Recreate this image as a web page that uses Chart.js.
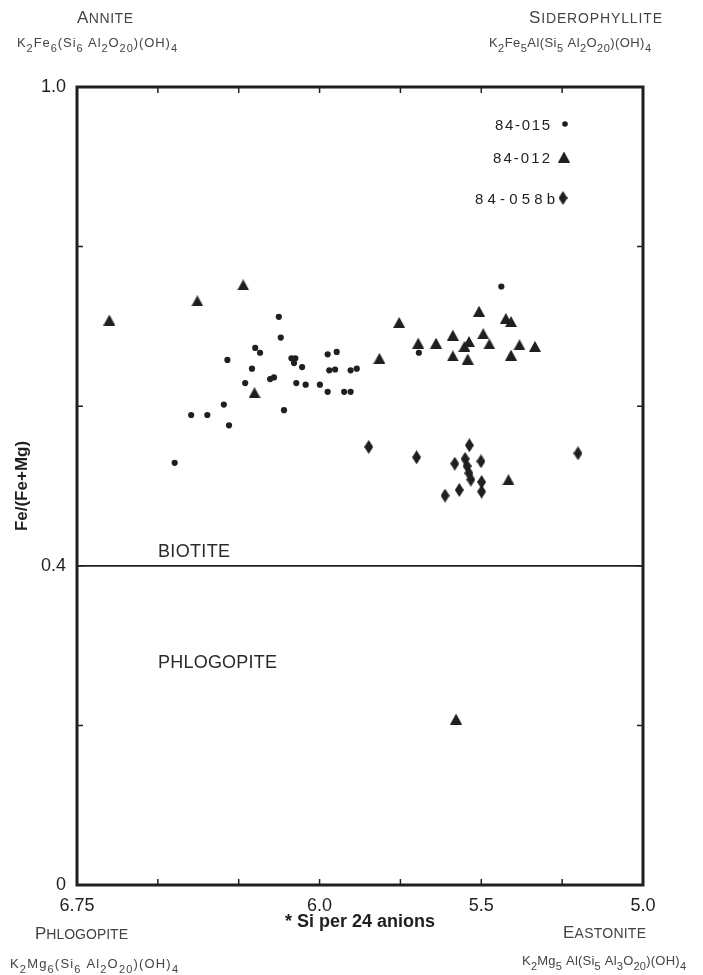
<!DOCTYPE html>
<html>
<head>
<meta charset="utf-8">
<script src="https://cdn.jsdelivr.net/npm/chart.js@4.4.1/dist/chart.umd.min.js"></script>
<style>
  html, body { margin: 0; padding: 0; background: #fff; }
  #chart { display: block; }
</style>
</head>
<body>
<canvas id="chart" width="703" height="975"></canvas>
<script>
(() => {
  'use strict';

  // [Si per 24 anions, Fe/(Fe+Mg)]
  const s84015 = [
    [6.126, 0.712], [6.120, 0.686], [6.199, 0.673], [6.184, 0.667], [6.285, 0.658],
    [6.087, 0.660], [6.075, 0.660], [6.079, 0.654], [6.054, 0.649], [6.209, 0.647],
    [6.153, 0.634], [6.141, 0.636], [6.230, 0.629], [6.072, 0.629], [6.043, 0.627],
    [6.296, 0.602], [6.397, 0.589], [6.347, 0.589], [6.110, 0.595], [6.280, 0.576],
    [6.448, 0.529], [5.975, 0.665], [5.947, 0.668], [5.999, 0.627], [5.975, 0.618],
    [5.970, 0.645], [5.952, 0.646], [5.904, 0.645], [5.885, 0.647], [5.924, 0.618],
    [5.904, 0.618], [5.693, 0.667], [5.438, 0.750]
  ];
  const s84012 = [
    [6.650, 0.708], [6.378, 0.732], [6.236, 0.752], [6.201, 0.617], [5.754, 0.705],
    [5.815, 0.660], [5.695, 0.679], [5.640, 0.679], [5.588, 0.689], [5.507, 0.719],
    [5.424, 0.710], [5.408, 0.706], [5.494, 0.691], [5.538, 0.681], [5.552, 0.675],
    [5.475, 0.678], [5.382, 0.677], [5.334, 0.675], [5.588, 0.663], [5.542, 0.659],
    [5.408, 0.664], [5.416, 0.508], [5.578, 0.208]
  ];
  const s84058b = [
    [5.848, 0.549], [5.700, 0.536], [5.537, 0.551], [5.582, 0.528], [5.501, 0.531],
    [5.550, 0.534], [5.544, 0.525], [5.538, 0.516], [5.532, 0.508], [5.499, 0.505],
    [5.499, 0.493], [5.568, 0.495], [5.612, 0.488], [5.201, 0.541]
  ];
  const biotiteLine = [[6.75, 0.4], [5.0, 0.4]];

  const xTickValues = [6.75, 6.5, 6.25, 6.0, 5.75, 5.5, 5.25, 5.0];
  const xTickLabels = ['6.75', '', '', '6.0', '', '5.5', '', '5.0'];
  const yTickValues = [0, 0.2, 0.4, 0.6, 0.8, 1.0];
  const yTickLabels = ['0', '', '0.4', '', '', '1.0'];

  const INK = '#1f1f1f';
  const GREY = '#444';
  const FONT = "'Liberation Sans', Arial, sans-serif";

  const pts = arr => arr.map(([x, y]) => ({ x, y }));

  function shapeCanvas(w, h, draw) {
    const c = document.createElement('canvas');
    c.width = w; c.height = h;
    const g = c.getContext('2d');
    g.fillStyle = INK;
    g.beginPath();
    draw(g, w, h);
    g.fill();
    return c;
  }
  const triangleImg = shapeCanvas(12, 11, (g, w, h) => {
    g.moveTo(w / 2, 0); g.lineTo(w, h); g.lineTo(0, h); g.closePath();
  });
  const diamondImg = shapeCanvas(9, 14, (g, w, h) => {
    g.moveTo(w / 2, 0); g.lineTo(w, h / 2); g.lineTo(w / 2, h); g.lineTo(0, h / 2); g.closePath();
  });

  // draw runs of text (different sizes / offsets) spread to a target width
  function drawRuns(ctx, runs, x, y, width, color) {
    ctx.save();
    ctx.fillStyle = color;
    ctx.textBaseline = 'alphabetic';
    ctx.textAlign = 'left';
    ctx.letterSpacing = '0px';
    let natural = 0, chars = 0;
    runs.forEach(r => {
      ctx.font = (r.bold ? 'bold ' : '') + r.size + 'px ' + FONT;
      natural += ctx.measureText(r.t).width;
      chars += [...r.t].length;
    });
    const sp = width && chars > 1 ? (width - natural) / (chars - 1) : 0;
    ctx.letterSpacing = sp + 'px';
    let cx = x;
    runs.forEach(r => {
      ctx.font = (r.bold ? 'bold ' : '') + r.size + 'px ' + FONT;
      ctx.fillText(r.t, cx, y + (r.dy || 0));
      cx += ctx.measureText(r.t).width;
    });
    ctx.restore();
  }

  const smallCaps = (word, big, small) => [{ t: word[0], size: big }, { t: word.slice(1), size: small }];
  const formula = parts => parts.map((p, i) => i % 2 ? { t: p, size: 11, dy: 5 } : { t: p, size: 13 });

  const decorations = {
    id: 'decorations',
    afterDraw(chart) {
      const { ctx, chartArea: a, scales: { x, y } } = chart;
      ctx.save();
      ctx.strokeStyle = INK;
      // inward tick marks
      ctx.lineWidth = 1.5;
      ctx.beginPath();
      xTickValues.forEach(v => {
        const px = x.getPixelForValue(v);
        if (Math.abs(px - a.left) < 2 || Math.abs(px - a.right) < 2) return;
        ctx.moveTo(px, a.bottom); ctx.lineTo(px, a.bottom - 6);
        ctx.moveTo(px, a.top); ctx.lineTo(px, a.top + 6);
      });
      yTickValues.forEach(v => {
        const py = y.getPixelForValue(v);
        if (Math.abs(py - a.top) < 2 || Math.abs(py - a.bottom) < 2) return;
        ctx.moveTo(a.left, py); ctx.lineTo(a.left + 6, py);
        ctx.moveTo(a.right, py); ctx.lineTo(a.right - 6, py);
      });
      ctx.stroke();
      // frame
      ctx.lineWidth = 3;
      ctx.strokeRect(a.left, a.top, a.right - a.left, a.bottom - a.top);
      ctx.restore();

      // field names
      drawRuns(ctx, [{ t: 'BIOTITE', size: 18 }], 158, 557, 72, '#2a2a2a');
      drawRuns(ctx, [{ t: 'PHLOGOPITE', size: 18 }], 158, 668, 119, '#2a2a2a');

      // legend
      const ds = chart.data.datasets;
      drawRuns(ctx, [{ t: ds[0].label, size: 15 }], 495, 130, 55, INK);
      drawRuns(ctx, [{ t: ds[1].label, size: 15 }], 493, 163, 57, INK);
      drawRuns(ctx, [{ t: ds[2].label, size: 15 }], 475, 204, 80, INK);
      ctx.save();
      ctx.fillStyle = INK;
      ctx.beginPath();
      ctx.arc(565, 124, 2.8, 0, Math.PI * 2);
      ctx.fill();
      ctx.drawImage(triangleImg, 564 - 6, 157 - 5.5);
      ctx.drawImage(diamondImg, 563 - 4.5, 198 - 7);
      ctx.restore();

      // end members
      drawRuns(ctx, smallCaps('ANNITE', 17, 14), 77, 23, 56, GREY);
      drawRuns(ctx, formula(['K', '2', 'Fe', '6', '(Si', '6', ' Al', '2', 'O', '20', ')(OH)', '4']), 17, 47, 160, GREY);
      drawRuns(ctx, smallCaps('SIDEROPHYLLITE', 17, 14), 529, 23, 133, GREY);
      drawRuns(ctx, formula(['K', '2', 'Fe', '5', 'Al(Si', '5', ' Al', '2', 'O', '20', ')(OH)', '4']), 489, 47, 162, GREY);
      drawRuns(ctx, smallCaps('PHLOGOPITE', 17, 14), 35, 939, 93, GREY);
      drawRuns(ctx, formula(['K', '2', 'Mg', '6', '(Si', '6', ' Al', '2', 'O', '20', ')(OH)', '4']), 10, 968, 168, GREY);
      drawRuns(ctx, smallCaps('EASTONITE', 17, 14), 563, 938, 83, GREY);
      drawRuns(ctx, formula(['K', '2', 'Mg', '5', ' Al(Si', '5', ' Al', '3', 'O', '20', ')(OH)', '4']), 522, 965, 164, GREY);
    }
  };

  const tickFont = { family: FONT, size: 18 };
  const labelFor = (vals, labels) => v => {
    const i = vals.findIndex(t => Math.abs(t - v) < 1e-6);
    return i < 0 ? '' : labels[i];
  };

  new Chart(document.getElementById('chart'), {
    type: 'scatter',
    data: {
      datasets: [
        { label: '84-015', data: pts(s84015), pointStyle: 'circle', pointRadius: 3.1, backgroundColor: INK, borderWidth: 0 },
        { label: '84-012', data: pts(s84012), pointStyle: triangleImg },
        { label: '84-058b', data: pts(s84058b), pointStyle: diamondImg },
        { label: 'biotite', data: pts(biotiteLine), showLine: true, borderColor: INK, borderWidth: 1.8, pointRadius: 0 }
      ]
    },
    options: {
      responsive: false,
      animation: false,
      events: [],
      layout: { padding: { top: 87, right: 60, bottom: 0, left: 0 } },
      plugins: { legend: { display: false }, tooltip: { enabled: false } },
      scales: {
        x: {
          type: 'linear', reverse: true, min: 5.0, max: 6.75,
          afterFit: s => { s.height = 90; },
          afterBuildTicks: s => { s.ticks = xTickValues.map(v => ({ value: v })); },
          grid: { display: false, drawTicks: false },
          border: { display: false },
          ticks: { autoSkip: false, maxRotation: 0, padding: 10, color: INK, font: tickFont, callback: labelFor(xTickValues, xTickLabels) },
          title: { display: true, text: '* Si per 24 anions', color: INK, font: { family: FONT, size: 18, weight: 'bold' }, padding: { top: 0, bottom: 42 } }
        },
        y: {
          type: 'linear', min: 0, max: 1.0,
          afterFit: s => { s.width = 77; },
          afterBuildTicks: s => { s.ticks = yTickValues.map(v => ({ value: v })); },
          grid: { display: false, drawTicks: false },
          border: { display: false },
          ticks: { autoSkip: false, padding: 11, color: INK, font: tickFont, callback: labelFor(yTickValues, yTickLabels) },
          title: { display: true, text: 'Fe/(Fe+Mg)', color: INK, font: { family: FONT, size: 17, weight: 'bold' }, padding: { top: 12, bottom: 0 } }
        }
      }
    },
    plugins: [decorations]
  });
})();
</script>
</body>
</html>
